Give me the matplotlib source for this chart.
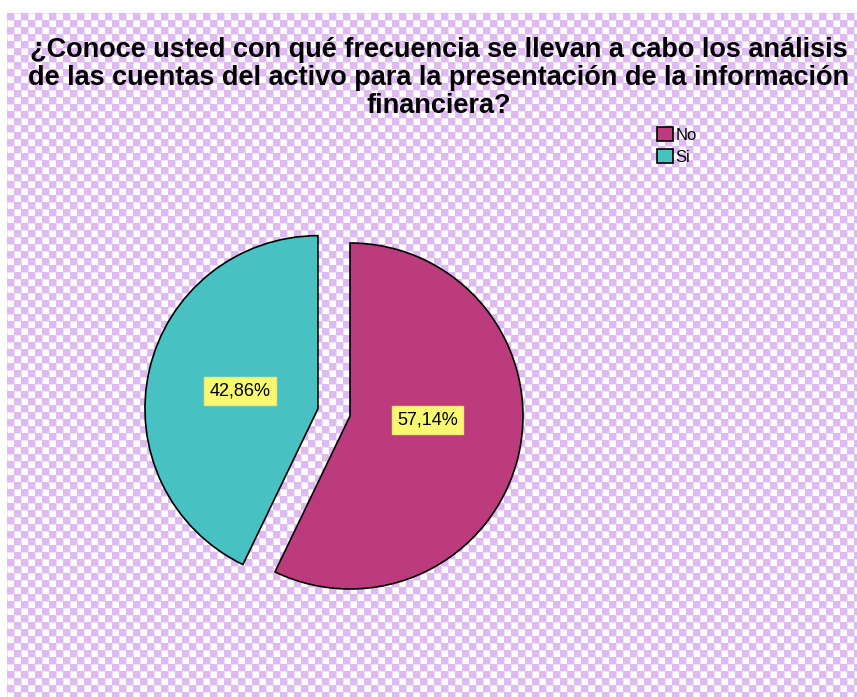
import matplotlib.pyplot as plt
import numpy as np

# data
labels = ['No', 'Si']
values = [57.14, 42.86]
colors = ['#bc3b7c', '#48c1c3']
title = ('¿Conoce usted con qué frecuencia se llevan a cabo los análisis\n'
         'de las cuentas del activo para la presentación de la información\n'
         'financiera?')

plt.rcParams['font.family'] = ['Liberation Sans', 'DejaVu Sans']

W, H = 857, 697
fig = plt.figure(figsize=(W / 100, H / 100), dpi=100)

# checkered background (7px cells), white strip at top and left
bw, bh = W - 7, H - 13
yy, xx = np.mgrid[0:bh, 0:bw]
chk = ((yy // 7 + xx // 7) % 2 == 0)
bg = np.ones((bh, bw, 3))
bg[chk] = np.array([222, 186, 241]) / 255
# faint border lines on white cells
edge = ((yy % 7 == 0) | (xx % 7 == 0)) & ~chk
bg[edge] = np.array([240, 222, 250]) / 255
fig.figimage(bg, xo=7, yo=0, origin='upper', zorder=0)

# axes scaled so that 1 unit = 173 px, No-slice centre at (350, 416) px
r = 173.0
cx, cy = 350, H - 416
ax = fig.add_axes([0, 0, 1, 1])
ax.set_zorder(1)
ax.patch.set_alpha(0)

wedges, texts, autotexts = ax.pie(
    values, colors=colors, startangle=90, counterclock=False,
    explode=[0, 0.19], autopct=lambda p: f'{p:.2f}%'.replace('.', ','),
    pctdistance=0.46, wedgeprops=dict(edgecolor='black', linewidth=1.2),
    textprops=dict(fontsize=13, color='black'))
for t in autotexts:
    t.set_bbox(dict(facecolor='#f9f871', edgecolor='#f0e878', pad=0.3, boxstyle='square'))
# SPSS puts the No label a bit higher than the bisector
x0, y0 = autotexts[0].get_position()
autotexts[0].set_position((x0, y0 + 0.08))

ax.set_xlim(-cx / r, (W - cx) / r)
ax.set_ylim(-cy / r, (H - cy) / r)
ax.set_aspect('auto')
ax.axis('off')

fig.text(439 / W, 1 - 78 / H, title, ha='center', va='center',
         fontsize=19.5, fontweight='bold', linespacing=1.12, zorder=2)

leg = ax.legend(wedges, labels, loc='upper left', bbox_to_anchor=(657 / W, 1 - 127 / H),
                frameon=False, fontsize=12, handlelength=0.95, handleheight=0.95,
                handletextpad=0.15, labelspacing=0.35, borderpad=0, borderaxespad=0)

fig.savefig('out.png', dpi=100)
